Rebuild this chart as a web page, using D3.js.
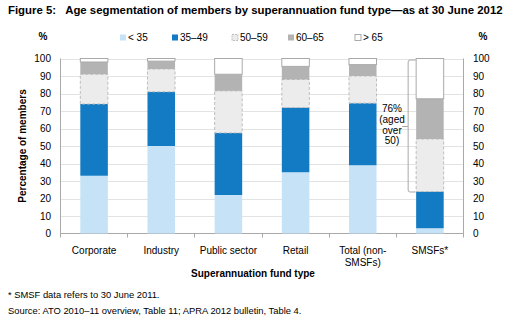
<!DOCTYPE html>
<html>
<head>
<meta charset="utf-8">
<style>
  body { margin: 0; background: #fff; }
  text { font-family: Arial, "Liberation Sans", sans-serif; fill: #000; }
</style>
</head>
<body>
<script src="https://cdn.jsdelivr.net/npm/d3@7"></script>
<script>
var width = 508, height = 323;

// data (percent of members)
var fundTypes = ['Corporate', 'Industry', 'Public sector', 'Retail', 'Total (non-SMSFs)', 'SMSFs*'];
var ageGroups = ['< 35', '35\u201349', '50\u201359', '60\u201365', '> 65'];
var under35   = [33, 50, 22, 35, 39, 3];
var age35to49 = [41, 31, 35.5, 37, 35.5, 21];
var age50to59 = [17, 13, 24, 16, 15.5, 30];
var age60to65 = [7, 4.5, 9.5, 7.5, 6.5, 23];
var over65    = [2, 1.5, 9, 4.5, 3.5, 23];
var yTicks = [0, 10, 20, 30, 40, 50, 60, 70, 80, 90, 100];

var colors = ['#c5e2f7', '#127bc4', '#ececec', '#b3b3b3', '#ffffff'];

var rows = fundTypes.map(function (f, i) {
    return { fund: f, '< 35': under35[i], '35\u201349': age35to49[i], '50\u201359': age50to59[i],
             '60\u201365': age60to65[i], '> 65': over65[i] };
});

var svg = d3.select('body').append('svg')
    .attr('width', width).attr('height', height);

var plotLeft = 60.5, plotRight = 463.5, plotTop = 58.5, plotBottom = 233.5;

var x = d3.scaleBand().domain(fundTypes).range([plotLeft, plotRight])
    .paddingInner(0.59).paddingOuter(0.295);
var y = d3.scaleLinear().domain([0, 100]).range([plotBottom, plotTop]);

// title
svg.append('text').attr('x', 8).attr('y', 14)
    .style('font-weight', 'bold').style('font-size', '11.4px')
    .text('Figure 5:\u00a0\u00a0 Age segmentation of members by superannuation fund type\u2014as at 30 June 2012');

// gridlines
svg.append('g').selectAll('line').data(yTicks.slice(1)).enter().append('line')
    .attr('x1', plotLeft).attr('x2', plotRight)
    .attr('y1', function (d) { return Math.round(y(d)) + 0.5; })
    .attr('y2', function (d) { return Math.round(y(d)) + 0.5; })
    .attr('stroke', '#e3e3e3');

// tick labels both sides
svg.append('g').selectAll('text').data(yTicks).enter().append('text')
    .attr('x', 51).attr('y', function (d) { return y(d) + 3.5; })
    .attr('text-anchor', 'end').style('font-size', '10px').text(function (d) { return d; });
svg.append('g').selectAll('text').data(yTicks).enter().append('text')
    .attr('x', 473).attr('y', function (d) { return y(d) + 3.5; })
    .style('font-size', '10px').text(function (d) { return d; });

svg.append('text').attr('x', 43).attr('y', 40).attr('text-anchor', 'middle')
    .style('font-size', '10px').style('font-weight', 'bold').text('%');
svg.append('text').attr('x', 483).attr('y', 40).attr('text-anchor', 'middle')
    .style('font-size', '10px').style('font-weight', 'bold').text('%');

// axes lines
var axisColor = '#a9a9a9';
svg.append('line').attr('x1', plotLeft).attr('x2', plotLeft).attr('y1', plotTop).attr('y2', plotBottom).attr('stroke', axisColor);
svg.append('line').attr('x1', plotRight).attr('x2', plotRight).attr('y1', plotTop).attr('y2', plotBottom).attr('stroke', axisColor);
svg.append('line').attr('x1', plotLeft).attr('x2', plotRight).attr('y1', plotBottom).attr('y2', plotBottom).attr('stroke', axisColor);
var bounds = fundTypes.map(function (f) { return x(f) - x.step() * x.paddingInner() / 2; }).concat([plotRight]);
svg.append('g').selectAll('line').data(bounds).enter().append('line')
    .attr('x1', function (d) { return Math.round(d - 0.5) + 0.5; })
    .attr('x2', function (d) { return Math.round(d - 0.5) + 0.5; })
    .attr('y1', plotBottom).attr('y2', plotBottom + 4).attr('stroke', axisColor);

// stacked bars
var stack = d3.stack().keys(ageGroups)(rows);
var layers = svg.append('g').selectAll('g').data(stack).enter().append('g')
    .attr('fill', function (d, i) { return colors[i]; });
layers.selectAll('rect').data(function (d) { return d; }).enter().append('rect')
    .attr('x', function (d) { return x(d.data.fund); })
    .attr('width', x.bandwidth())
    .attr('y', function (d) { return y(d[1]); })
    .attr('height', function (d) { return y(d[0]) - y(d[1]); })
    .each(function (d) {
        var key = d3.select(this.parentNode).datum().key;
        if (key === '50\u201359') {
            d3.select(this).attr('stroke', '#bdbdbd').attr('stroke-dasharray', '3,2');
        } else if (key === '> 65') {
            d3.select(this).attr('stroke', '#a9a9a9');
        }
    });

// bracket over SMSF 50+ segments
var bx = x('SMSFs*') - 0.5;
var yTop = y(100) + 1.5, yBot = y(24) + 0.5, yMid = Math.round((yTop + yBot) / 2) + 0.5;
var vx = bx - 7.5;
svg.append('path')
    .attr('d', 'M' + bx + ',' + yTop + ' L' + (vx + 2) + ',' + yTop +
        ' Q' + vx + ',' + yTop + ' ' + vx + ',' + (yTop + 2) +
        ' L' + vx + ',' + (yBot - 2) +
        ' Q' + vx + ',' + yBot + ' ' + (vx + 2) + ',' + yBot + ' L' + bx + ',' + yBot +
        ' M' + vx + ',' + yMid + ' L' + (vx - 6) + ',' + yMid)
    .attr('fill', 'none').attr('stroke', '#a9a9a9');
var note = ['76%', '(aged', 'over', '50)'];
svg.append('g').selectAll('text').data(note).enter().append('text')
    .attr('x', 392).attr('y', function (d, i) { return 112 + i * 10.8; })
    .attr('text-anchor', 'middle').style('font-size', '10px').text(function (d) { return d; });

// x labels
var xLabels = svg.append('g').selectAll('text').data(fundTypes).enter().append('text')
    .attr('x', function (d) { return x(d) + x.bandwidth() / 2; })
    .attr('y', 254).attr('text-anchor', 'middle').style('font-size', '10px');
xLabels.each(function (d) {
    var t = d3.select(this);
    if (d === 'Total (non-SMSFs)') {
        t.append('tspan').attr('x', x(d) + x.bandwidth() / 2).text('Total (non-');
        t.append('tspan').attr('x', x(d) + x.bandwidth() / 2).attr('dy', 12).text('SMSFs)');
    } else {
        t.text(d);
    }
});

svg.append('text').attr('x', 253).attr('y', 277).attr('text-anchor', 'middle')
    .style('font-size', '10px').style('font-weight', 'bold').text('Superannuation fund type');

svg.append('text').attr('transform', 'translate(26,' + ((plotTop + plotBottom) / 2) + ') rotate(-90)')
    .attr('text-anchor', 'middle').style('font-size', '10px').style('font-weight', 'bold')
    .text('Percentage of members');

// legend
var legendX = [120, 172, 232, 288, 355];
var legend = svg.append('g').selectAll('g').data(ageGroups).enter().append('g')
    .attr('transform', function (d, i) { return 'translate(' + legendX[i] + ',34.5)'; });
legend.append('rect').attr('width', 6).attr('height', 6)
    .attr('fill', function (d, i) { return colors[i]; })
    .attr('stroke', function (d, i) { return i === 4 ? '#a9a9a9' : (i === 2 ? '#bdbdbd' : 'none'); })
    .attr('stroke-dasharray', function (d, i) { return i === 2 ? '2,1' : null; });
legend.append('text').attr('x', 8).attr('y', 6).style('font-size', '10px').text(function (d) { return d; });

// notes
svg.append('text').attr('x', 8).attr('y', 298).style('font-size', '9.4px')
    .text('* SMSF data refers to 30 June 2011.');
svg.append('text').attr('x', 8).attr('y', 314).style('font-size', '9.4px')
    .text('Source: ATO 2010\u201311 overview, Table 11; APRA 2012 bulletin, Table 4.');
</script>
</body>
</html>
